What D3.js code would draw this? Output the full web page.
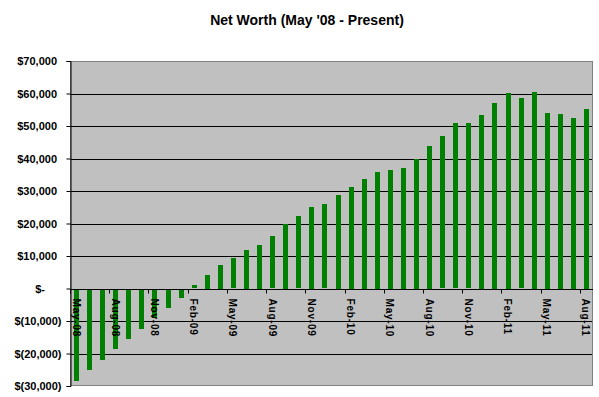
<!DOCTYPE html>
<html>
<head>
<meta charset="utf-8">
<script src="https://cdn.jsdelivr.net/npm/d3@7"></script>
<style>
  body { margin: 0; background: #fff; }
  svg { display: block; }
</style>
</head>
<body>
<svg width="599" height="397"></svg>
<script>
// Months May-08 .. Aug-11
const months = ["May-08","Jun-08","Jul-08","Aug-08","Sep-08","Oct-08","Nov-08","Dec-08",
  "Jan-09","Feb-09","Mar-09","Apr-09","May-09","Jun-09","Jul-09","Aug-09","Sep-09","Oct-09","Nov-09","Dec-09",
  "Jan-10","Feb-10","Mar-10","Apr-10","May-10","Jun-10","Jul-10","Aug-10","Sep-10","Oct-10","Nov-10","Dec-10",
  "Jan-11","Feb-11","Mar-11","Apr-11","May-11","Jun-11","Jul-11","Aug-11"];

const netWorth = [-28200, -24800, -21700, -18600, -15300, -12200, -8800, -5800,
  -2700, 1000, 4200, 7300, 9300, 11900, 13400, 16100, 20000, 22300, 25100, 25900,
  28800, 31300, 33700, 35900, 36500, 37100, 40000, 43900, 46900, 50900, 50900, 53400,
  57100, 60200, 58600, 60500, 54000, 53700, 52500, 55300];

const yTicks = [-30000, -20000, -10000, 0, 10000, 20000, 30000, 40000, 50000, 60000, 70000];

const svg = d3.select("svg");
const plotL = 70, plotR = 593, plotT = 61, plotB = 386;

const xb = d3.scaleBand().domain(months).range([plotL, plotR]); // category slots
const y = d3.scaleLinear().domain([-30000, 70000]).range([plotB, plotT]);

// title
svg.append("text")
   .attr("x", 307)
   .attr("y", 25)
   .attr("text-anchor", "middle")
   .attr("font-family", "Liberation Sans, Arial, sans-serif")
   .attr("font-weight", "bold")
   .attr("font-size", "14px")
   .text("Net Worth (May '08 - Present)");

// plot area
svg.append("rect")
   .attr("x", plotL)
   .attr("y", plotT)
   .attr("width", plotR - plotL)
   .attr("height", plotB - plotT)
   .attr("fill", "#c0c0c0");

// gridlines
svg.append("g")
   .selectAll("line")
   .data(yTicks.filter(d => d > -30000 && d < 70000))
   .join("line")
   .attr("x1", plotL)
   .attr("x2", plotR)
   .attr("y1", d => Math.round(y(d)) + 0.5)
   .attr("y2", d => Math.round(y(d)) + 0.5)
   .attr("stroke", "#000")
   .attr("stroke-width", 1);

// border
svg.append("rect")
   .attr("x", plotL + 0.5)
   .attr("y", plotT + 0.5)
   .attr("width", plotR - plotL - 1)
   .attr("height", plotB - plotT - 1)
   .attr("fill", "none")
   .attr("stroke", "#808080");

// bars
svg.append("g")
   .selectAll("rect")
   .data(netWorth)
   .join("rect")
   .attr("x", (d, i) => Math.round(xb(months[i]) + xb.bandwidth() / 2 - 2.5))
   .attr("width", 5)
   .attr("y", d => Math.round(y(Math.max(0, d))))
   .attr("height", d => Math.round(Math.abs(y(d) - y(0))))
   .attr("fill", "#008000");

// y axis
const yAxis = d3.axisLeft(y)
   .tickValues(yTicks)
   .tickSize(4)
   .tickFormat(() => "");
const ya = svg.append("g")
   .attr("transform", `translate(${plotL + 0.5},0)`)
   .call(yAxis);
ya.select(".domain").attr("stroke", "#000");
ya.selectAll(".tick line").attr("stroke", "#000");

const fmt = d3.format(",");
svg.append("g")
   .selectAll("text")
   .data(yTicks)
   .join("text")
   .attr("x", d => d > 0 ? 57 : (d < 0 ? 61.5 : 45))
   .attr("y", d => y(d) + 4)
   .attr("text-anchor", "end")
   .attr("font-family", "Liberation Sans, Arial, sans-serif")
   .attr("font-weight", "bold")
   .attr("font-size", "11px")
   .text(d => d > 0 ? "$" + fmt(d) : (d < 0 ? "$(" + fmt(-d) + ")" : "$-"));

// x axis at zero
const labelMonths = months.filter((m, i) => i % 3 === 0);
const xa = svg.append("g")
   .attr("transform", `translate(0,${Math.round(y(0)) + 0.5})`);
xa.append("line")
   .attr("x1", plotL)
   .attr("x2", plotR)
   .attr("stroke", "#000");
xa.selectAll("line.tk")
   .data(labelMonths)
   .join("line")
   .attr("class", "tk")
   .attr("x1", d => Math.round(xb(d)) + 0.5)
   .attr("x2", d => Math.round(xb(d)) + 0.5)
   .attr("y1", 0)
   .attr("y2", 4)
   .attr("stroke", "#000");
xa.selectAll("text")
   .data(labelMonths)
   .join("text")
   .attr("transform", d => `translate(${xb(d) + xb.bandwidth() / 2 - 4},9) rotate(90)`)
   .attr("font-family", "Liberation Sans, Arial, sans-serif")
   .attr("font-weight", "bold")
   .attr("font-size", "10px")
   .attr("letter-spacing", "0.8px")
   .text(d => d);
</script>
</body>
</html>
